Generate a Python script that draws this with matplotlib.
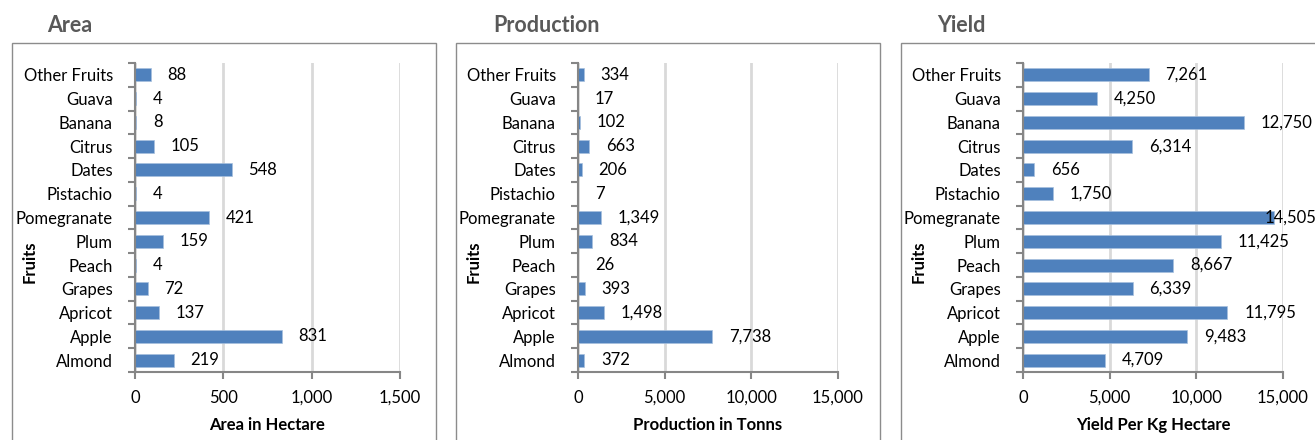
"""
Fruit statistics: area, production and yield as three horizontal bar panels.
"""
import matplotlib; matplotlib.use('Agg')
import matplotlib.pyplot as plt
from matplotlib.patches import Rectangle
from matplotlib.ticker import FixedLocator, FuncFormatter

plt.rcParams['font.family'] = ['Lato', 'DejaVu Sans']

# ── Data (bottom -> top) ─────────────────────────────────────────────────────
fruits = ['Almond', 'Apple', 'Apricot', 'Grapes', 'Peach', 'Plum', 'Pomegranate',
          'Pistachio', 'Dates', 'Citrus', 'Banana', 'Guava', 'Other Fruits']
area       = [219, 831, 137, 72, 4, 159, 421, 4, 548, 105, 8, 4, 88]
production = [372, 7738, 1498, 393, 26, 834, 1349, 7, 206, 663, 102, 17, 334]
yield_kg   = [4709, 9483, 11795, 6339, 8667, 11425, 14505, 1750, 656, 6314, 12750, 4250, 7261]

panels = [
    ('Area',       'Area in Hectare',      area,       [0, 500, 1000, 1500]),
    ('Production', 'Production in Tonns',  production, [0, 5000, 10000, 15000]),
    ('Yield',      'Yield Per Kg Hectare', yield_kg,   [0, 5000, 10000, 15000]),
]

W, H = 1315, 440
BAR   = '#4F81BD'
GRID  = '#D9D9D9'
AXIS  = '#868686'
TITLE = '#595959'
FS    = 12

# pixel layout of each panel: (box left, box right, plot left, plot right, title x)
layout = [
    (12,  436,  135,  400,  47),
    (456, 880,  578,  838,  493),
    (901, 1340, 1023, 1283, 937),
]
PLOT_TOP, PLOT_BOT = 63, 372

fig = plt.figure(figsize=(W / 100, H / 100), dpi=100)

for (title, xlabel, vals, xt), (bl, br, pl, pr, tx) in zip(panels, layout):
    # outer frame of the chart
    fig.patches.append(Rectangle((bl / W, -0.1), (br - bl) / W, 1.1 - 43 / H,
                                 transform=fig.transFigure, fill=False,
                                 edgecolor='#8C8C8C', lw=1.0))
    fig.text(tx / W, 1 - 25 / H, title, fontsize=15.5, fontweight='bold',
             color=TITLE, va='center', ha='left')

    ax = fig.add_axes([pl / W, 1 - PLOT_BOT / H, (pr - pl) / W, (PLOT_BOT - PLOT_TOP) / H])
    ypos = range(len(fruits))
    ax.barh(ypos, vals, height=0.55, color=BAR, edgecolor='#A7C0DE', lw=0.5, zorder=3)
    for y, v in zip(ypos, vals):
        # labels that would run past the chart edge are pulled back, like Excel does
        off = 12 if v < 0.95 * xt[-1] else -7
        ax.annotate(f'{v:,}', xy=(v, y), xytext=(off, 0), textcoords='offset points',
                    ha='left', va='center', fontsize=FS, color='black',
                    annotation_clip=False, zorder=4)

    ax.set_xlim(xt[0], xt[-1])
    ax.set_ylim(-0.5, len(fruits) - 0.5)
    ax.set_xticks(xt)
    ax.xaxis.set_major_formatter(FuncFormatter(lambda v, _: f'{int(v):,}'))
    ax.set_yticks(list(ypos))
    ax.set_yticklabels(fruits)
    ax.yaxis.set_minor_locator(FixedLocator([i - 0.5 for i in range(len(fruits) + 1)]))
    ax.tick_params(axis='y', which='major', length=0, pad=16, labelsize=FS)
    ax.tick_params(axis='y', which='minor', length=5, width=1.5, color=AXIS, direction='out')
    ax.tick_params(axis='x', which='major', length=5, width=1.5, color=AXIS,
                   direction='out', pad=8, labelsize=FS)

    ax.grid(axis='x', color=GRID, lw=2, zorder=0)
    for s in ['top', 'right']:
        ax.spines[s].set_visible(False)
    for s in ['left', 'bottom']:
        ax.spines[s].set_color(AXIS)
        ax.spines[s].set_linewidth(1.5)
        ax.spines[s].set_zorder(5)

    fig.text((pl + pr) / 2 / W, 1 - 425 / H, xlabel, fontsize=FS, fontweight='bold',
             ha='center', va='center')
    fig.text((bl + 18) / W, 1 - 262 / H, 'Fruits', fontsize=FS, fontweight='bold',
             rotation=90, ha='center', va='center')

fig.savefig('out.png', dpi=100)
